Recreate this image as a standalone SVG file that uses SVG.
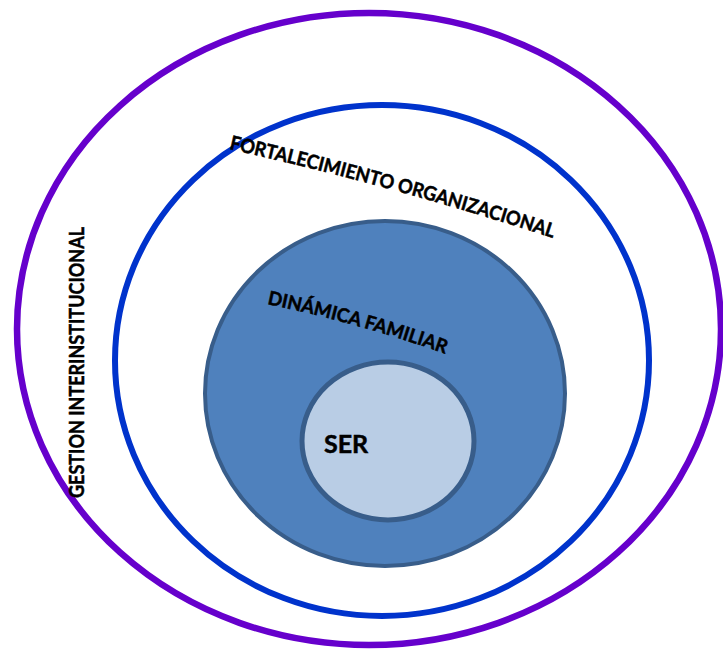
<svg xmlns="http://www.w3.org/2000/svg" width="723" height="650" viewBox="0 0 723 650">
  <defs>
    <style>
      .lbl { font-family: Lato, "Open Sans", "Liberation Sans", sans-serif; font-weight: 700; fill: #000; stroke: #000; stroke-width: 0.5; }
      .ring { fill: none; }
    </style>
    <path id="arcFort" d="M 229 149 Q 393 186 553 238"/>
    <path id="arcDin" d="M 267 304 Q 358 323 446 354"/>
  </defs>
  <rect width="723" height="650" fill="#fff"/>
  <g id="gestion">
    <ellipse class="ring" cx="369" cy="329" rx="352" ry="316" stroke="#6600CC" stroke-width="6.5"/>
    <text class="lbl" x="84" y="498" font-size="21.5" textLength="271" lengthAdjust="spacingAndGlyphs" transform="rotate(-90 84 498)">GESTION INTERINSTITUCIONAL</text>
  </g>
  <g id="fortalecimiento">
    <ellipse class="ring" cx="382" cy="360.5" rx="267" ry="255.5" stroke="#0033CC" stroke-width="6"/>
    <text class="lbl" font-size="19.5"><textPath href="#arcFort" textLength="336" lengthAdjust="spacingAndGlyphs">FORTALECIMIENTO ORGANIZACIONAL</textPath></text>
  </g>
  <g id="dinamica">
    <ellipse cx="385" cy="393.5" rx="180" ry="172.5" fill="#4F81BD" stroke="#385D8A" stroke-width="4"/>
    <text class="lbl" font-size="19"><textPath href="#arcDin" textLength="185" lengthAdjust="spacingAndGlyphs">DINÁMICA FAMILIAR</textPath></text>
  </g>
  <g id="ser">
    <ellipse cx="388" cy="441" rx="86" ry="79" fill="#B9CDE5" stroke="#385D8A" stroke-width="5"/>
    <text class="lbl" x="324" y="453" font-size="25">SER</text>
  </g>
</svg>
